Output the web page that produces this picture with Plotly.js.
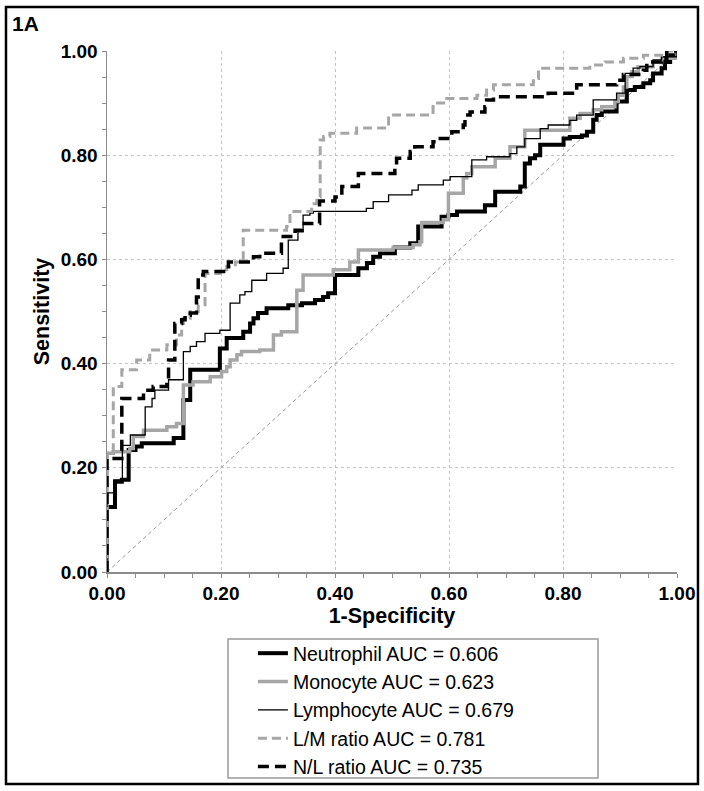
<!DOCTYPE html>
<html>
<head>
<meta charset="utf-8">
<script src="https://cdn.plot.ly/plotly-3.0.1.min.js"></script>
<style>html,body{margin:0;padding:0;background:#fff;}</style>
</head>
<body>
<div id="chart" style="width:704px;height:791px;"></div>
<script>
// ROC curve vertices (1-Specificity, Sensitivity), drawn as steps
var neutroX = [0, 0, 0.014, 0.026, 0.038, 0.050, 0.061, 0.117, 0.134, 0.146, 0.198, 0.210, 0.239, 0.251, 0.257, 0.265, 0.280, 0.318, 0.342, 0.365, 0.379, 0.388, 0.400, 0.441, 0.456, 0.467, 0.479, 0.505, 0.532, 0.546, 0.587, 0.599, 0.614, 0.663, 0.681, 0.725, 0.733, 0.742, 0.751, 0.760, 0.801, 0.812, 0.833, 0.842, 0.853, 0.859, 0.868, 0.894, 0.912, 0.926, 0.941, 0.953, 0.958, 0.973, 0.979, 0.988, 1.0];
var neutroY = [0, 0.125, 0.173, 0.177, 0.234, 0.241, 0.247, 0.257, 0.330, 0.388, 0.429, 0.449, 0.461, 0.477, 0.487, 0.497, 0.506, 0.512, 0.516, 0.522, 0.528, 0.535, 0.570, 0.583, 0.593, 0.605, 0.612, 0.623, 0.631, 0.663, 0.682, 0.685, 0.692, 0.704, 0.730, 0.740, 0.784, 0.794, 0.800, 0.820, 0.832, 0.835, 0.838, 0.845, 0.868, 0.877, 0.884, 0.903, 0.925, 0.931, 0.938, 0.944, 0.957, 0.967, 0.979, 0.992, 1.0];

var monoX = [0, 0, 0.011, 0.040, 0.046, 0.064, 0.105, 0.122, 0.134, 0.151, 0.181, 0.201, 0.210, 0.216, 0.228, 0.236, 0.268, 0.292, 0.306, 0.333, 0.344, 0.397, 0.426, 0.441, 0.502, 0.537, 0.549, 0.552, 0.590, 0.599, 0.625, 0.631, 0.640, 0.681, 0.707, 0.733, 0.812, 0.830, 0.853, 0.868, 0.891, 0.897, 0.906, 0.912, 0.921, 0.932, 0.958, 0.973, 1.0];
var monoY = [0, 0.228, 0.231, 0.237, 0.260, 0.272, 0.279, 0.285, 0.359, 0.365, 0.375, 0.385, 0.394, 0.407, 0.417, 0.423, 0.426, 0.455, 0.461, 0.541, 0.570, 0.580, 0.595, 0.618, 0.623, 0.628, 0.634, 0.671, 0.676, 0.727, 0.756, 0.765, 0.778, 0.794, 0.816, 0.848, 0.871, 0.880, 0.887, 0.893, 0.903, 0.915, 0.931, 0.951, 0.960, 0.970, 0.979, 0.986, 1.0];

var lymphX = [0, 0, 0.012, 0.027, 0.041, 0.067, 0.079, 0.084, 0.108, 0.134, 0.146, 0.157, 0.172, 0.198, 0.216, 0.233, 0.242, 0.254, 0.280, 0.309, 0.318, 0.335, 0.344, 0.356, 0.362, 0.455, 0.467, 0.494, 0.535, 0.546, 0.590, 0.602, 0.640, 0.666, 0.707, 0.719, 0.733, 0.760, 0.774, 0.812, 0.824, 0.853, 0.894, 0.909, 0.923, 0.935, 0.958, 0.973, 1.0];
var lymphY = [0, 0.152, 0.177, 0.243, 0.263, 0.317, 0.333, 0.349, 0.369, 0.423, 0.433, 0.442, 0.458, 0.464, 0.516, 0.532, 0.538, 0.560, 0.573, 0.583, 0.637, 0.653, 0.685, 0.689, 0.692, 0.698, 0.711, 0.724, 0.733, 0.743, 0.752, 0.759, 0.791, 0.797, 0.803, 0.816, 0.832, 0.851, 0.858, 0.867, 0.877, 0.906, 0.919, 0.957, 0.967, 0.970, 0.983, 0.989, 1.0];

var lmX = [0, 0, 0.011, 0.026, 0.052, 0.075, 0.105, 0.122, 0.131, 0.134, 0.146, 0.160, 0.172, 0.198, 0.210, 0.225, 0.239, 0.315, 0.321, 0.359, 0.368, 0.374, 0.380, 0.391, 0.438, 0.494, 0.572, 0.596, 0.649, 0.666, 0.678, 0.748, 0.757, 0.847, 0.874, 0.906, 0.941, 0.982, 1.0];
var lmY = [0, 0.228, 0.356, 0.388, 0.407, 0.426, 0.436, 0.455, 0.477, 0.487, 0.500, 0.513, 0.573, 0.580, 0.586, 0.595, 0.656, 0.663, 0.692, 0.707, 0.720, 0.829, 0.836, 0.842, 0.852, 0.877, 0.900, 0.909, 0.915, 0.925, 0.935, 0.947, 0.967, 0.973, 0.979, 0.986, 0.992, 1.0, 1.0];

var nlX = [0, 0, 0.026, 0.064, 0.081, 0.105, 0.108, 0.119, 0.131, 0.137, 0.146, 0.157, 0.160, 0.169, 0.213, 0.257, 0.268, 0.306, 0.330, 0.342, 0.373, 0.400, 0.412, 0.441, 0.505, 0.508, 0.532, 0.540, 0.572, 0.581, 0.605, 0.625, 0.628, 0.637, 0.663, 0.666, 0.678, 0.774, 0.824, 0.894, 0.906, 0.941, 0.947, 0.973, 0.982, 1.0];
var nlY = [0, 0.218, 0.333, 0.349, 0.356, 0.369, 0.407, 0.477, 0.484, 0.493, 0.497, 0.528, 0.570, 0.577, 0.595, 0.605, 0.612, 0.644, 0.656, 0.669, 0.712, 0.720, 0.740, 0.765, 0.778, 0.794, 0.807, 0.816, 0.826, 0.832, 0.845, 0.858, 0.877, 0.883, 0.893, 0.906, 0.912, 0.919, 0.935, 0.944, 0.955, 0.963, 0.979, 0.986, 1.0, 1.0];

var refX = [0, 1];
var refY = [0, 1];

var seriesNames = ['Neutrophil AUC = 0.606', 'Monocyte AUC = 0.623', 'Lymphocyte AUC = 0.679', 'L/M ratio AUC = 0.781', 'N/L ratio AUC = 0.735'];
var tickVals = [0, 0.2, 0.4, 0.6, 0.8, 1.0];
var tickText = ['0.00', '0.20', '0.40', '0.60', '0.80', '1.00'];

var FONT = 'Arial, "Liberation Sans", sans-serif';
var GRAY = '#a6a6a6';

var traces = [
  {x: refX, y: refY, mode: 'lines', showlegend: false, hoverinfo: 'skip',
   line: {color: '#9a9a9a', width: 1, dash: '4px,3px'}},
  {x: neutroX, y: neutroY, name: seriesNames[0], mode: 'lines',
   line: {shape: 'hv', color: '#000000', width: 4}},
  {x: monoX, y: monoY, name: seriesNames[1], mode: 'lines',
   line: {shape: 'hv', color: GRAY, width: 3.5}},
  {x: lymphX, y: lymphY, name: seriesNames[2], mode: 'lines',
   line: {shape: 'hv', color: '#000000', width: 1.3}},
  {x: lmX, y: lmY, name: seriesNames[3], mode: 'lines',
   line: {shape: 'hv', color: GRAY, width: 3, dash: '9px,5px'}},
  {x: nlX, y: nlY, name: seriesNames[4], mode: 'lines',
   line: {shape: 'hv', color: '#000000', width: 3.5, dash: '11px,6px'}}
];

var axisCommon = {
  range: [0, 1],
  tickvals: tickVals,
  ticktext: tickText,
  showgrid: true,
  gridcolor: '#c4c4c4',
  griddash: 'dot',
  gridwidth: 1,
  showline: true,
  linecolor: '#8c8c8c',
  linewidth: 1.5,
  ticks: 'outside',
  ticklen: 4,
  tickcolor: '#8c8c8c',
  tickwidth: 1,
  zeroline: false,
  tickfont: {family: FONT, size: 19, color: '#000', weight: 'bold'},
  minor: {dtick: 0.05, tick0: 0, ticks: 'outside', ticklen: 4, tickcolor: '#8c8c8c', showgrid: false},
  fixedrange: true
};

var layout = {
  width: 704,
  height: 791,
  margin: {l: 107, r: 27, t: 51, b: 219, autoexpand: false},
  paper_bgcolor: '#ffffff',
  plot_bgcolor: '#ffffff',
  font: {family: FONT, color: '#000'},
  xaxis: Object.assign({}, axisCommon, {
    title: {text: '1-Specificity', font: {family: FONT, size: 21.5, color: '#000', weight: 'bold'}, standoff: 0}
  }),
  yaxis: Object.assign({}, axisCommon, {
    title: {text: 'Sensitivity', font: {family: FONT, size: 21.5, color: '#000', weight: 'bold'}, standoff: 5}
  }),
  showlegend: true,
  legend: {
    x: 0.256, y: -0.119, xanchor: 'left', yanchor: 'top',
    bgcolor: 'rgba(0,0,0,0)', borderwidth: 0,
    font: {family: FONT, size: 19.5, color: '#000'},
    traceorder: 'normal'
  },
  shapes: [
    {type: 'rect', xref: 'paper', yref: 'paper', x0: -0.1772, x1: 1.0368, y0: -0.4069, y1: 1.0845,
     line: {color: '#000', width: 2.5}, fillcolor: 'rgba(0,0,0,0)', layer: 'above'},
    {type: 'rect', xref: 'paper', yref: 'paper', x0: 0.2123, x1: 0.8614, y0: -0.3954, y1: -0.1286,
     line: {color: '#999999', width: 1.5}, fillcolor: 'rgba(0,0,0,0)', layer: 'above'}
  ],
  annotations: [
    {text: '1A', xref: 'paper', yref: 'paper', x: -0.170, y: 1.078, xanchor: 'left', yanchor: 'top',
     showarrow: false, font: {family: FONT, size: 21, color: '#000', weight: 'bold'}}
  ]
};

Plotly.newPlot('chart', traces, layout, {displayModeBar: false, staticPlot: true});
</script>
</body>
</html>
